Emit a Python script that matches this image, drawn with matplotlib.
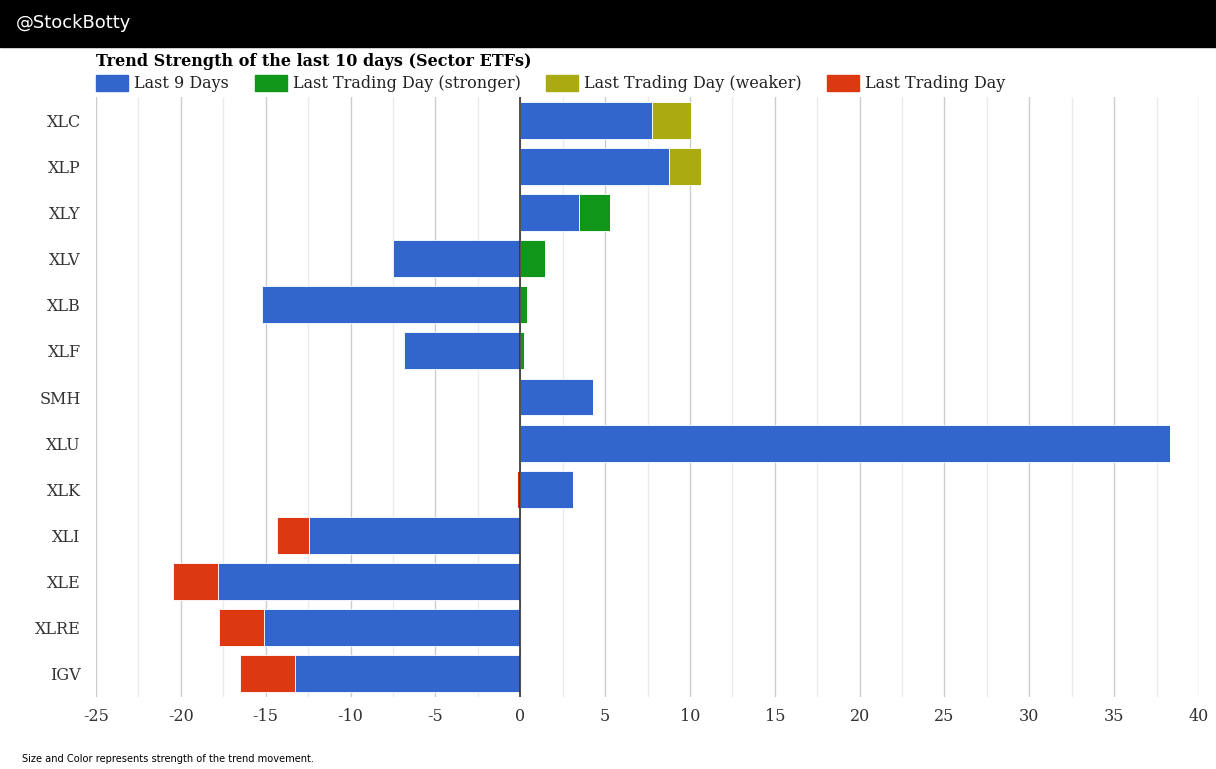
import matplotlib.pyplot as plt
import numpy as np
from matplotlib.patches import Rectangle
from matplotlib.ticker import MultipleLocator

plt.rcParams['axes.unicode_minus'] = False

tickers = ['XLC', 'XLP', 'XLY', 'XLV', 'XLB', 'XLF', 'SMH', 'XLU', 'XLK', 'XLI', 'XLE', 'XLRE', 'IGV']
last9 = [7.78, 8.78, 3.48, -7.48, -15.2, -6.83, 4.30, 38.3, 3.12, -12.43, -17.79, -15.08, -13.25]
stronger = [0, 0, 1.83, 1.47, 0.41, 0.24, 0, 0, 0, 0, 0, 0, 0]
weaker = [2.3, 1.89, 0, 0, 0, 0, 0, 0, 0, 0, 0, 0, 0]
lastday = [0, 0, 0, 0, 0, 0, -0.1, -0.06, -0.18, -1.89, -2.65, -2.65, -3.24]

series = [('Last 9 Days', last9, '#3366cc'),
          ('Last Trading Day (stronger)', stronger, '#109618'),
          ('Last Trading Day (weaker)', weaker, '#aaaa11'),
          ('Last Trading Day', lastday, '#dc3912')]

fig = plt.figure(figsize=(12.16, 7.69), dpi=100)
W, H = 1216, 769
ax = fig.add_axes([96 / W, 1 - 697 / H, (1199 - 96) / W, (697 - 97) / H])

y = np.arange(len(tickers))
pos = np.zeros(len(tickers))
neg = np.zeros(len(tickers))
for name, vals, col in series:
    vals = np.array(vals, dtype=float)
    left = np.where(vals >= 0, pos, neg)
    ax.barh(y, vals, left=left, height=0.8, color=col, edgecolor='white', linewidth=0.6, zorder=3)
    pos += np.where(vals > 0, vals, 0)
    neg += np.where(vals < 0, vals, 0)

ax.set_xlim(-25, 40)
ax.set_ylim(len(tickers) - 0.5, -0.5)
ax.xaxis.set_major_locator(MultipleLocator(5))
ax.xaxis.set_minor_locator(MultipleLocator(2.5))
ax.grid(axis='x', which='major', color='#cccccc', linewidth=1, zorder=0)
ax.grid(axis='x', which='minor', color='#ebebeb', linewidth=1, zorder=0)
ax.axvline(0, color='#333333', linewidth=1.2, zorder=4)
for s in ax.spines.values():
    s.set_visible(False)
ax.tick_params(axis='both', which='both', length=0)
ax.set_yticks(y)
ax.set_yticklabels(tickers)
ax.set_xticks(np.arange(-25, 41, 5))
for lab in ax.get_xticklabels() + ax.get_yticklabels():
    lab.set_family('DejaVu Serif')
    lab.set_fontsize(11.5)
    lab.set_color('#333333')
ax.tick_params(axis='x', pad=8)
ax.tick_params(axis='y', pad=11)

# header band
fig.patches.append(Rectangle((0, 1 - 47 / H), 1, 47 / H, transform=fig.transFigure, color='black', zorder=0))
fig.text(16 / W, 1 - 23 / H, '@StockBotty', color='white', fontsize=13, va='center', family='DejaVu Sans')

fig.text(96 / W, 1 - 62 / H, 'Trend Strength of the last 10 days (Sector ETFs)', fontsize=11.5,
         fontweight='bold', family='DejaVu Serif', va='center')

# legend
lx = [96, 255, 546, 827]
for (name, vals, col), x0 in zip(series, lx):
    fig.patches.append(Rectangle((x0 / W, 1 - 91 / H), 32 / W, 16 / H, transform=fig.transFigure, color=col))
    fig.text((x0 + 38) / W, 1 - 83 / H, name, fontsize=11.5, family='DejaVu Serif', va='center', color='#222222')

fig.text(22 / W, 1 - 759 / H, 'Size and Color represents strength of the trend movement.', fontsize=7.1,
         family='DejaVu Sans', va='center')

fig.savefig('out.png', dpi=100)
